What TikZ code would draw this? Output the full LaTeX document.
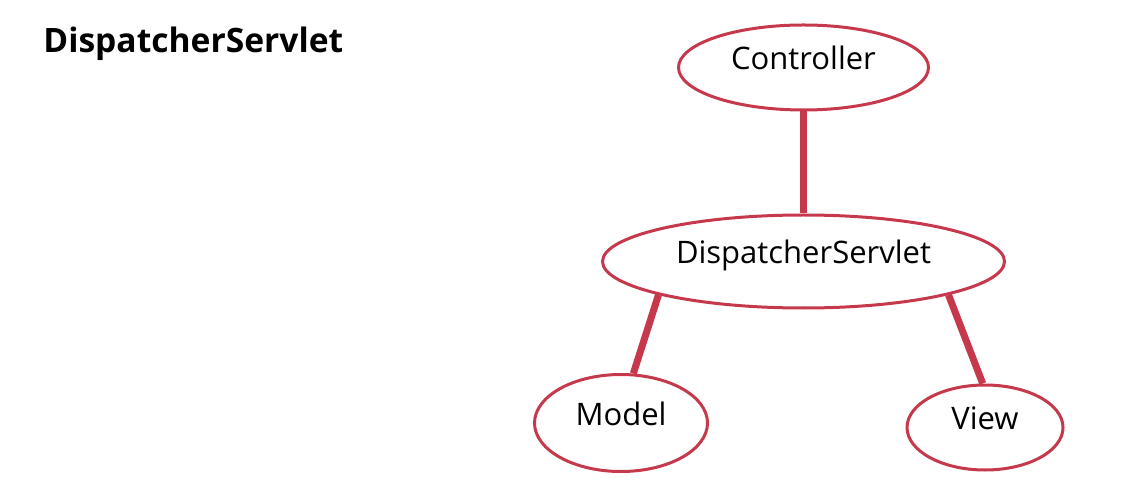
\documentclass[tikz,border=0pt]{standalone}
\usepackage{fontspec}
\setmainfont{Open Sans}
\usetikzlibrary{shapes.geometric}
\definecolor{mvcred}{RGB}{198,56,76}

\begin{document}
\begin{tikzpicture}[
    x=0.5pt, y=-0.5pt,
    oval/.style={draw=mvcred, ellipse, line width=1.5pt, inner sep=0pt, align=center,
      font=\fontsize{15.5}{18}\selectfont, text height=0.62em, text depth=0.38em},
    link/.style={draw=mvcred, line width=3.5pt},
    heading/.style={anchor=base west, inner sep=0pt, font=\fontsize{16.8}{20}\selectfont\bfseries}
  ]
    \useasboundingbox (0,0) rectangle (1122,480);
    \node[heading] (title) at (43,53) {DispatcherServlet};

    \node[oval, minimum width=125pt, minimum height=42.5pt]  (controller) at (803.5,67.5) {Controller};
    \node[oval, minimum width=201pt, minimum height=46.5pt]  (dispatcher) at (803.5,261.5) {DispatcherServlet};
    \node[oval, minimum width=86.5pt, minimum height=48.5pt] (model) at (621,423) {Model};
    \node[oval, minimum width=78pt, minimum height=42.5pt]   (view) at (985,427.5) {View};

    \draw[link] (controller) -- (dispatcher);
    \draw[link] (dispatcher.193) -- (model.76);
    \draw[link] (dispatcher.347) -- (view.93);
  \end{tikzpicture}
\end{document}
